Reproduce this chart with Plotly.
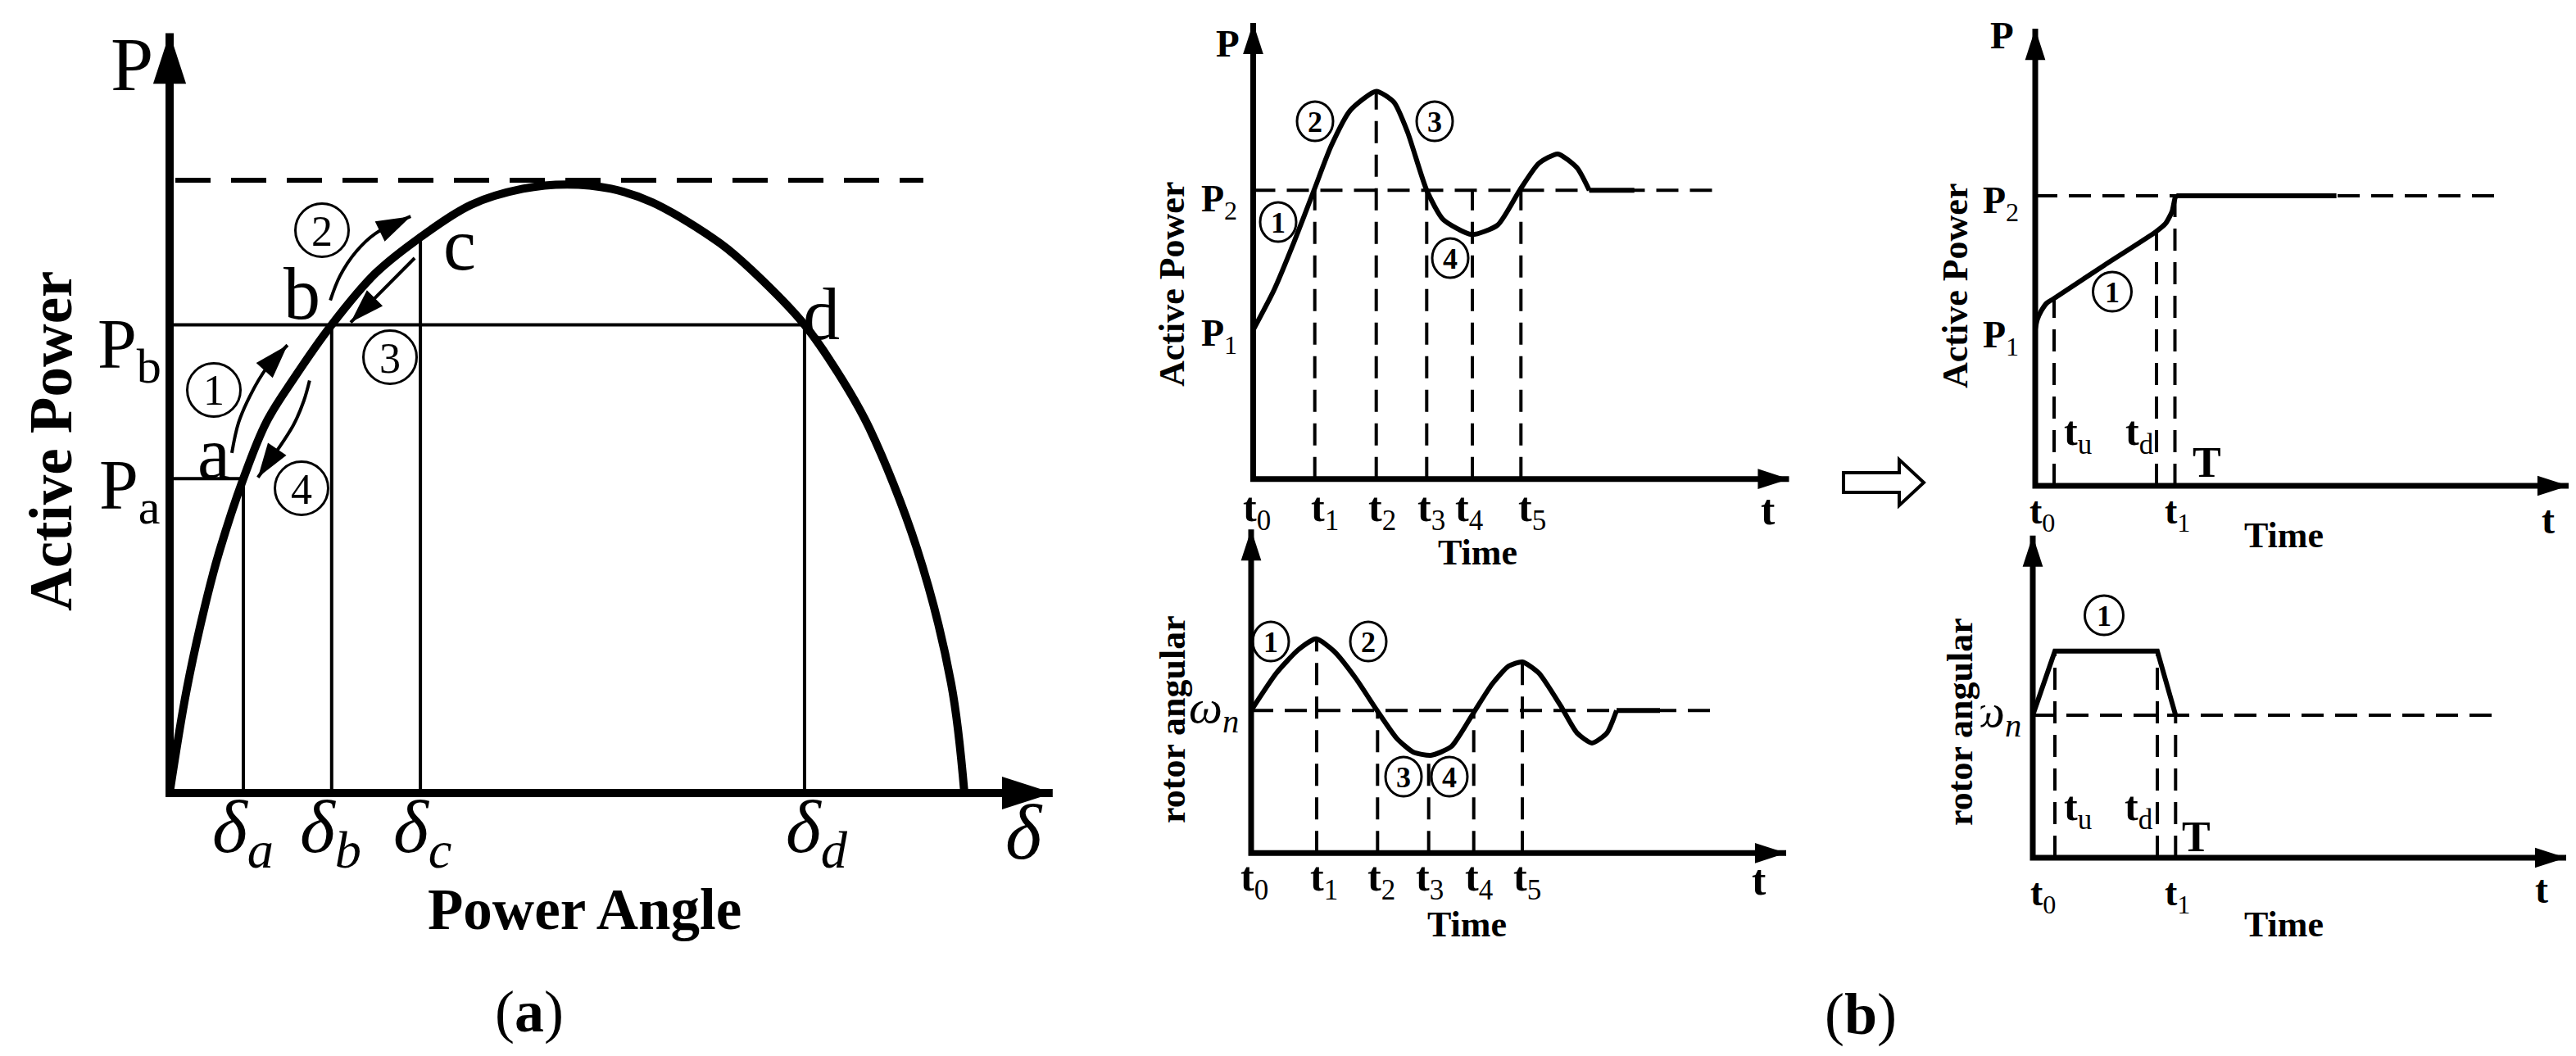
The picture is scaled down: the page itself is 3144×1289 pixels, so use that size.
import plotly.graph_objects as go

W, H = 3144, 1289
SERIF = "Liberation Serif"

# ---------------- (a) power-angle characteristic (delta in degrees, P per unit of Pmax)
A_DELTA = [0, 3.9, 8.5, 11.3, 16.7, 21.9, 28.0, 36.7, 46.6, 56.8, 68.3, 80.0, 90.0,
           100.0, 109.3, 124.7, 132.3, 143.8, 152.3, 158.5, 169.2, 177.0, 180.0]
A_P = [0, 0.17, 0.32, 0.395, 0.513, 0.605, 0.675, 0.764, 0.848, 0.907, 0.960, 0.986, 0.993,
       0.986, 0.964, 0.897, 0.850, 0.764, 0.675, 0.595, 0.400, 0.179, 0]
A_PMAX = 1.0
A_DASH_SPAN = [1.3, 170.7]
A_AXIS_END = [200.0, 1.24]
A_POINT_DELTA = [16.7, 36.7, 56.8, 143.8]     # a, b, c, d
A_POINT_P = [0.513, 0.764, 0.907, 0.764]
# transition arrows 1..4 along the curve
A_MOVE_DELTA = [[14.1, 15.6, 18.2, 21.9, 26.7], [36.4, 38.6, 42.3, 46.6, 54.6],
                [55.5, 41.0], [31.7, 30.4, 28.0, 20.0]]
A_MOVE_P = [[0.555, 0.604, 0.648, 0.693, 0.731], [0.804, 0.844, 0.884, 0.913, 0.941],
            [0.873, 0.768], [0.673, 0.640, 0.600, 0.515]]

# ---------------- (b) upper left: active power, P2 = 1
B1_TIME = [0, 2.52, 5.02, 7.42, 9.52, 11.85, 15.02, 17.18, 18.85, 21.18, 23.18, 26.68,
           29.85, 32.52, 34.85, 37.18, 39.52, 41.02, 46.52]
B1_P = [0.516, 0.653, 0.823, 1.0, 1.154, 1.277, 1.343, 1.305, 1.201, 1.0, 0.899, 0.847,
        0.880, 1.0, 1.093, 1.126, 1.078, 1.0, 1.0]
B1_MARKS = [7.52, 15.02, 21.18, 26.75, 32.68]          # t1..t5
B1_MARK_TOP = [1.0, 1.343, 1.0, 1.0, 1.0]
B1_REF = 1.0

# ---------------- (b) lower left: rotor angular speed, wn = 1
B2_TIME = [0, 3.1, 5.77, 7.93, 10.1, 12.77, 15.37, 17.77, 19.77, 21.93, 24.43, 27.1,
           29.43, 31.43, 33.1, 35.1, 37.77, 39.77, 41.6, 43.43, 44.6, 49.9]
B2_W = [1.0, 1.264, 1.427, 1.503, 1.417, 1.226, 1.0, 0.805, 0.709, 0.686, 0.747, 0.98,
        1.187, 1.312, 1.341, 1.264, 1.034, 0.843, 0.772, 0.843, 1.0, 1.0]
B2_MARKS = [8.0, 15.43, 21.67, 27.17, 33.1]
B2_MARK_TOP = [1.503, 1.0, 0.686, 1.0, 1.341]
B2_REF = 1.0

# ---------------- (b) upper right: controlled active power
C1_TIME = [0, 0.25, 0.73, 1.4, 2.23, 8.4, 14.73, 15.9, 16.7, 17.07, 17.23, 36.76]
C1_P = [0.54, 0.573, 0.603, 0.630, 0.645, 0.760, 0.876, 0.904, 0.946, 0.993, 1.0, 1.0]
C1_MARKS = [2.3, 14.8, 17.05]                          # tu, td, t1
C1_MARK_TOP = [0.645, 0.876, 1.0]
C1_REF = 1.0

# ---------------- (b) lower right: controlled rotor speed
C2_TIME = [0, 2.7, 15.2, 17.43]
C2_W = [1.0, 1.45, 1.45, 1.0]
C2_MARKS = [2.7, 15.2, 17.43]
C2_MARK_TOP = [1.45, 1.45, 1.0]
C2_REF = 1.0

# axis extents (arrow tips) and dashed reference length, in each panel's units
B_AXIS_END = {"2": (65.4, 1.58), "3": (65.3, 2.27), "4": (65.1, 1.576), "5": (65.1, 2.26)}
B_DASH_END = {"2": 56.85, "3": 56.9, "4": 56.8, "5": 56.8}

# panel placement: box (l, t, r, b) px, origin px, px per unit
PANELS = {
    "": dict(box=(0, 0, 1340, 1289), origin=(199, 960), scale=(5.389, 748)),
    "2": dict(box=(1380, 0, 2200, 660), origin=(1521.5, 576.7), scale=(10, 352.4)),
    "3": dict(box=(1380, 600, 2200, 1289), origin=(1519, 1033.3), scale=(10, 174)),
    "4": dict(box=(2400, 0, 3144, 660), origin=(2476, 585), scale=(10, 354)),
    "5": dict(box=(2400, 600, 3144, 1289), origin=(2473, 1039), scale=(10, 174)),
}

fig = go.Figure()


def px(x):
    return x / W


def py(y):
    return 1 - y / H


def add_line(x, y, ax, width, dash=None, shape="linear", smoothing=1.0):
    fig.add_trace(go.Scatter(
        x=x, y=y, mode="lines", xaxis="x" + ax, yaxis="y" + ax,
        line=dict(color="black", width=width, dash=dash, shape=shape, smoothing=smoothing),
        hoverinfo="skip", showlegend=False, cliponaxis=False,
    ))


def add_axes(ax, x_end, y_end, width, head):
    add_line([0, 0, x_end], [y_end, 0, 0], ax, width)
    fig.add_trace(go.Scatter(
        x=[0, x_end], y=[y_end, 0], mode="markers", xaxis="x" + ax, yaxis="y" + ax,
        marker=dict(symbol="arrow", size=head, angle=[0, 90], color="black",
                    opacity=1, line=dict(width=0)),
        hoverinfo="skip", showlegend=False, cliponaxis=False,
    ))


def add_verticals(xs, tops, ax, width, dash=None):
    x, y = [], []
    for t, top in zip(xs, tops):
        x += [t, t, None]
        y += [0, top, None]
    add_line(x, y, ax, width, dash)


def txt(text, x, y, size, angle=0, xanchor="center", bg=None, pad=1):
    fig.add_annotation(
        text=text, x=px(x), y=py(y), xref="paper", yref="paper", showarrow=False,
        xanchor=xanchor, yanchor="middle", textangle=angle,
        font=dict(family=SERIF, size=size, color="black"),
        bgcolor=bg, borderpad=pad,
    )


def circled(digit, x, y, w, h, size, bold=False, lw=3):
    fig.add_shape(type="circle", xref="paper", yref="paper",
                  x0=px(x - w / 2), x1=px(x + w / 2), y0=py(y + h / 2), y1=py(y - h / 2),
                  line=dict(color="black", width=lw))
    txt(f"<b>{digit}</b>" if bold else digit, x, y + 1, size)


# ---------------- axes placement
for key, p in PANELS.items():
    l, t, r, b = p["box"]
    ox, oy = p["origin"]
    sx, sy = p["scale"]
    fig.update_layout(**{
        "xaxis" + key: dict(domain=[px(l), px(r)], range=[(l - ox) / sx, (r - ox) / sx],
                            visible=False, anchor="y" + key),
        "yaxis" + key: dict(domain=[py(b), py(t)], range=[(oy - b) / sy, (oy - t) / sy],
                            visible=False, anchor="x" + key),
    })

# ---------------- panel (a)
add_line(A_DASH_SPAN, [A_PMAX, A_PMAX], "", 6, dash="43px,25px")
add_line([0, A_POINT_DELTA[0]], [A_POINT_P[0]] * 2, "", 4)
add_line([0, A_POINT_DELTA[3]], [A_POINT_P[1]] * 2, "", 4)
add_verticals(A_POINT_DELTA, A_POINT_P, "", 4)
add_line(A_DELTA, A_P, "", 10, shape="spline", smoothing=1.0)
add_axes("", A_AXIS_END[0], A_AXIS_END[1], 10, 65)
for xs, ys in zip(A_MOVE_DELTA, A_MOVE_P):
    fig.add_trace(go.Scatter(
        x=xs, y=ys, mode="lines+markers", line=dict(color="black", width=4, shape="spline"),
        marker=dict(symbol="arrow", size=[0] * (len(xs) - 1) + [44], angleref="previous",
                    color="black", opacity=1, line=dict(width=0)),
        hoverinfo="skip", showlegend=False, cliponaxis=False,
    ))

txt("P", 153, 70, 94)
txt("<b>Active Power</b>", 54, 531, 73, angle=-90)
txt("P<sub>b</sub>", 150, 418, 86)
txt("P<sub>a</sub>", 150, 590, 86)
for name, x, y in zip(["a", "b", "c", "d"], [253, 360, 553, 995], [546, 350, 290, 375]):
    txt(name, x, y, 90)
for sub, x in zip(["a", "b", "c", "d"], [288, 396, 507, 989]):
    txt(f"<i>δ</i><sub><i>{sub}</i></sub>", x, 1008, 92)
txt("<i>δ</i>", 1242, 1008, 95)
txt("<b>Power Angle</b>", 705, 1102, 71)
txt("(<b>a</b>)", 638, 1227, 72)
for d, x, y in zip("1234", [253, 385, 468, 360], [468, 273, 428, 588]):
    circled(d, x, y, 65, 65, 52)

# ---------------- panel (b): reference lines, markers, responses, axes
for ax, tt, vv, marks, tops, ref in [("2", B1_TIME, B1_P, B1_MARKS, B1_MARK_TOP, B1_REF),
                                     ("3", B2_TIME, B2_W, B2_MARKS, B2_MARK_TOP, B2_REF),
                                     ("4", C1_TIME, C1_P, C1_MARKS, C1_MARK_TOP, C1_REF),
                                     ("5", C2_TIME, C2_W, C2_MARKS, C2_MARK_TOP, C2_REF)]:
    add_line([0, B_DASH_END[ax]], [ref, ref], ax, 4, dash="27px,14px")
    add_verticals(marks, tops, ax, 4, dash="27px,14px")
    if ax == "5":
        add_line(tt, vv, ax, 6)
    else:
        # transient part smooth, settled part as a straight run
        add_line(tt[:-1], vv[:-1], ax, 6, shape="spline", smoothing=0.6)
        add_line(tt[-2:], vv[-2:], ax, 6)
    add_axes(ax, B_AXIS_END[ax][0], B_AXIS_END[ax][1], 7, 40)

# upper left labels
txt("<b>P</b>", 1490, 45, 47)
txt("<b>P</b><sub>2</sub>", 1504, 238, 46, xanchor="right")
txt("<b>P</b><sub>1</sub>", 1504, 402, 46, xanchor="right")
txt("<b>Active Power</b>", 1422, 339, 44, angle=-90)
for i, x in enumerate([1526, 1609, 1679, 1739, 1785, 1862]):
    txt(f"<b>t</b><sub>{i}</sub>", x, 615, 50)
txt("<b>t</b>", 2150, 614, 52)
txt("<b>Time</b>", 1795, 666, 44)
for d, x, y in zip("1234", [1552, 1597, 1743, 1762], [263, 140, 140, 307]):
    circled(d, x, y, 44, 48, 36, bold=True)

# lower left labels
txt("<i>ω</i><sub><i>n</i></sub>", 1473, 858, 58)
txt("<b>rotor angular</b>", 1424, 870, 44, angle=-90)
for i, x in enumerate([1523, 1608, 1678, 1737, 1797, 1856]):
    txt(f"<b>t</b><sub>{i}</sub>", x, 1066, 50)
txt("<b>t</b>", 2139, 1066, 52)
txt("<b>Time</b>", 1782, 1120, 44)
for d, x, y in zip("1234", [1543, 1662, 1705, 1761], [775, 775, 940, 940]):
    circled(d, x, y, 44, 48, 36, bold=True)

# upper right labels
txt("<b>P</b>", 2435, 35, 47)
txt("<b>P</b><sub>2</sub>", 2458, 240, 46, xanchor="right")
txt("<b>P</b><sub>1</sub>", 2458, 404, 46, xanchor="right")
txt("<b>Active Power</b>", 2378, 341, 44, angle=-90)
txt("<b>t</b><sub>u</sub>", 2528, 522, 50)
txt("<b>t</b><sub>d</sub>", 2603, 522, 50)
txt("<b>T</b>", 2685, 557, 52)
txt("<b>t</b><sub>0</sub>", 2484, 619, 46)
txt("<b>t</b><sub>1</sub>", 2649, 619, 46)
txt("<b>t</b>", 3102, 627, 48)
txt("<b>Time</b>", 2779, 645, 44)
circled("1", 2570, 348, 47, 48, 36, bold=True)

# lower right labels (the omega is partly hidden behind the axis title, as in the source)
txt("<i>ω</i><sub><i>n</i></sub>", 2428, 863, 58)
txt("<b>rotor angular</b>", 2384, 873, 44, angle=-90, bg="white", pad=0)
txt("<b>t</b><sub>u</sub>", 2528, 980, 50)
txt("<b>t</b><sub>d</sub>", 2602, 980, 50)
txt("<b>T</b>", 2672, 1013, 52)
txt("<b>t</b><sub>0</sub>", 2485, 1085, 46)
txt("<b>t</b><sub>1</sub>", 2649, 1085, 46)
txt("<b>t</b>", 3094, 1077, 48)
txt("<b>Time</b>", 2779, 1120, 44)
circled("1", 2560, 743, 47, 48, 36, bold=True)

txt("(<b>b</b>)", 2263, 1230, 72)

# hollow transition arrow between the two (b) columns
arrow_pts = [(2242, 569), (2310, 569), (2310, 553), (2340, 581), (2310, 609), (2310, 593), (2242, 593)]
path = "M " + " L ".join(f"{px(x):.5f},{py(y):.5f}" for x, y in arrow_pts) + " Z"
fig.add_shape(type="path", path=path, xref="paper", yref="paper",
              line=dict(color="black", width=4), fillcolor="white")

fig.update_layout(
    width=W, height=H,
    margin=dict(l=0, r=0, t=0, b=0),
    paper_bgcolor="white",
    plot_bgcolor="rgba(0,0,0,0)",
    showlegend=False,
)

fig.write_html("out.html")
